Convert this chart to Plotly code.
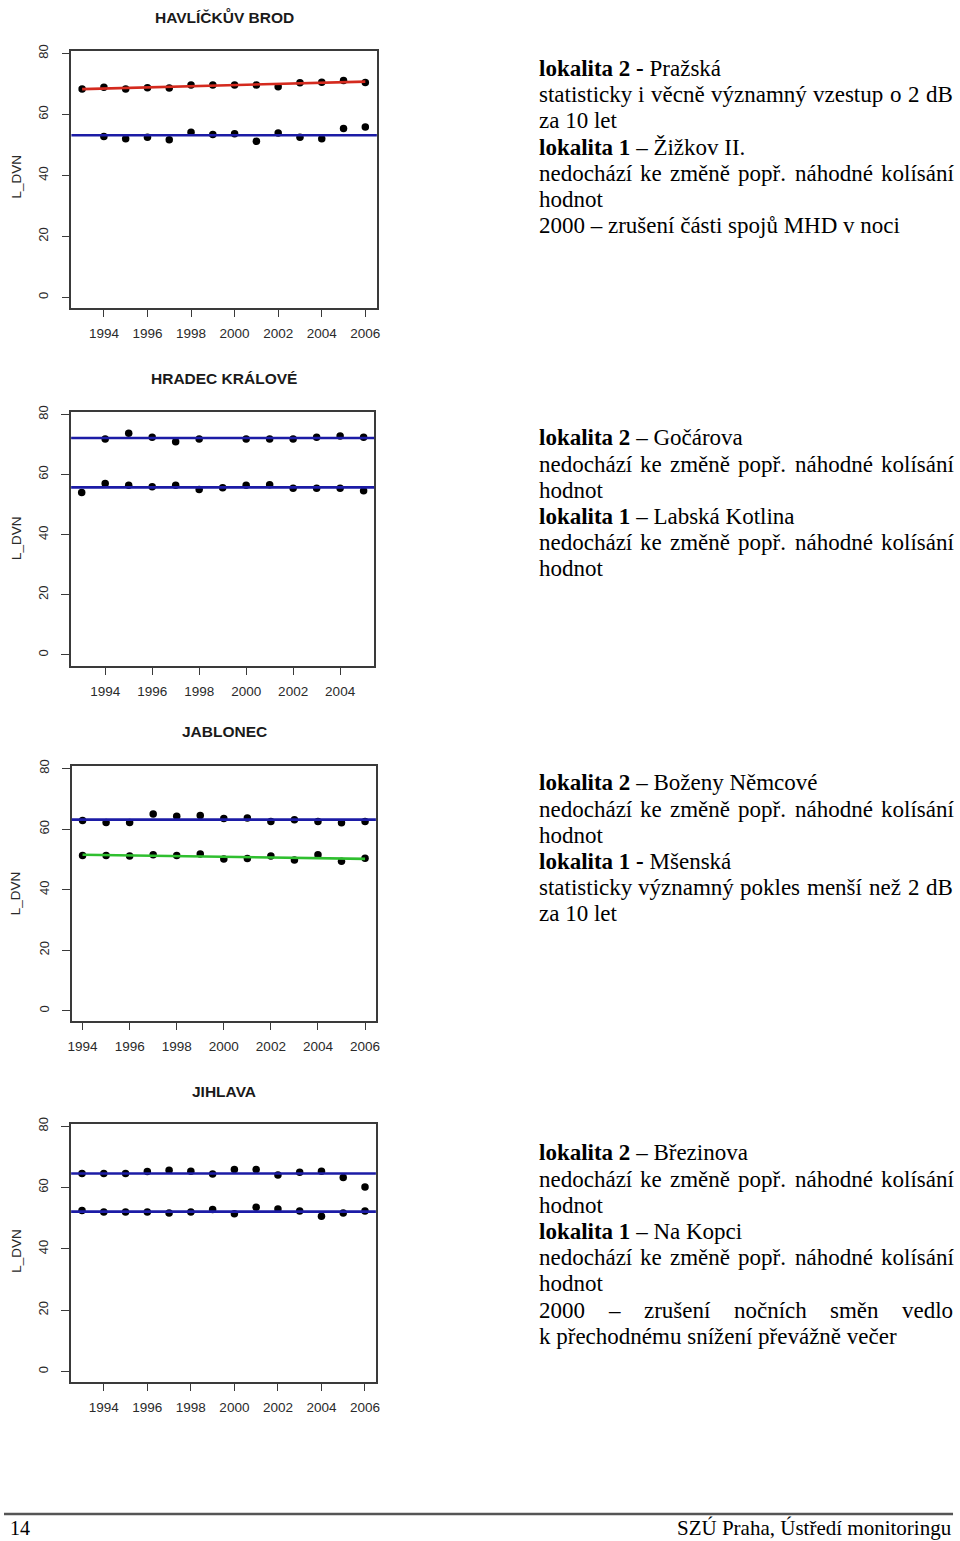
import unicodedata
import numpy as np
import plotly.graph_objects as go

W, H = 960, 1541

# ---------------- data ----------------
titles = ["HAVLÍČKŮV BROD", "HRADEC KRÁLOVÉ", "JABLONEC", "JIHLAVA"]

years_hb = list(range(1993, 2007))
hb_lok2 = [68.35, 68.9, 68.35, 68.8, 68.7, 69.7, 69.7, 69.7, 69.7, 69.1, 70.4, 70.6, 71.1, 70.5]
hb_lok1 = [None, 52.8, 52.0, 52.5, 51.7, 54.2, 53.4, 53.7, 51.2, 53.9, 52.5, 52.0, 55.4, 55.9]

years_hk = list(range(1993, 2006))
hk_lok2 = [None, 71.8, 73.7, 72.4, 70.9, 71.8, None, 71.8, 71.8, 71.8, 72.4, 72.8, 72.4]
hk_lok1 = [54.0, 57.0, 56.4, 55.9, 56.4, 55.0, 55.6, 56.4, 56.6, 55.4, 55.4, 55.4, 54.6]

years_jb = list(range(1994, 2007))
jb_lok2 = [62.8, 62.2, 62.2, 65.0, 64.2, 64.5, 63.5, 63.7, 62.5, 63.1, 62.5, 62.1, 62.5]
jb_lok1 = [51.3, 51.3, 51.1, 51.5, 51.3, 51.8, 50.1, 50.3, 51.1, 49.8, 51.5, 49.4, 50.4]

years_ji = list(range(1993, 2007))
ji_lok2 = [64.6, 64.6, 64.6, 65.2, 65.6, 65.3, 64.4, 65.9, 65.9, 64.1, 65.0, 65.3, 63.3, 60.2]
ji_lok1 = [52.5, 52.0, 52.0, 52.0, 51.7, 52.0, 52.8, 51.4, 53.6, 53.0, 52.3, 50.6, 51.7, 52.3]

y_ticks = [0, 20, 40, 60, 80]
x_ticks_hb = [1994, 1996, 1998, 2000, 2002, 2004, 2006]
x_ticks_hk = [1994, 1996, 1998, 2000, 2002, 2004]
x_ticks_jb = [1994, 1996, 1998, 2000, 2002, 2004, 2006]
x_ticks_ji = [1994, 1996, 1998, 2000, 2002, 2004, 2006]

# fit kind for (lok2, lok1): "mean" = horizontal blue line, else trend colour
fits = [("trend_red", "mean"), ("mean", "mean"), ("mean", "trend_green"), ("mean", "mean")]

texts = [
    [("<b>lokalita 2 -</b> Pražská", False),
     ("statisticky i věcně významný vzestup o 2 dB", True),
     ("za 10 let", False),
     ("<b>lokalita 1</b> – Žižkov II.", False),
     ("nedochází ke změně popř. náhodné kolísání", True),
     ("hodnot", False),
     ("2000 – zrušení části spojů MHD v noci", False)],
    [("<b>lokalita 2</b> – Gočárova", False),
     ("nedochází ke změně popř. náhodné kolísání", True),
     ("hodnot", False),
     ("<b>lokalita 1</b> – Labská Kotlina", False),
     ("nedochází ke změně popř. náhodné kolísání", True),
     ("hodnot", False)],
    [("<b>lokalita 2</b> – Boženy Němcové", False),
     ("nedochází ke změně popř. náhodné kolísání", True),
     ("hodnot", False),
     ("<b>lokalita 1 -</b> Mšenská", False),
     ("statisticky významný pokles menší než 2 dB", True),
     ("za 10 let", False)],
    [("<b>lokalita 2</b> – Březinova", False),
     ("nedochází ke změně popř. náhodné kolísání", True),
     ("hodnot", False),
     ("<b>lokalita 1</b> – Na Kopci", False),
     ("nedochází ke změně popř. náhodné kolísání", True),
     ("hodnot", False),
     ("2000 – zrušení nočních směn vedlo", True),
     ("k přechodnému snížení převážně večer", False)],
]

# ---------------- layout geometry (pixels) ----------------
panels = [
    dict(years=years_hb, a=hb_lok2, b=hb_lok1, xt=x_ticks_hb,
         box=(68, 376, 44, 302), xr=(1992.51, 2006.53), yr=(-3.36, 80.88),
         title_y=10, lab_y=170, text_y=69.7),
    dict(years=years_hk, a=hk_lok2, b=hk_lok1, xt=x_ticks_hk,
         box=(67.7, 373.3, 407.3, 661.7), xr=(1992.55, 2005.45), yr=(-3.65, 80.66),
         title_y=373, lab_y=533, text_y=440.7),
    dict(years=years_jb, a=jb_lok2, b=jb_lok1, xt=x_ticks_jb,
         box=(68.3, 375, 762.7, 1018.3), xr=(1993.54, 2006.46), yr=(-3.29, 80.76),
         title_y=728, lab_y=890, text_y=787.3),
    dict(years=years_ji, a=ji_lok2, b=ji_lok1, xt=x_ticks_ji,
         box=(67.7, 375, 1121.7, 1381), xr=(1992.5, 2006.5), yr=(-3.34, 80.84),
         title_y=1089, lab_y=1249, text_y=1159),
]

def px(x):
    return x / W

def py(y):
    return 1 - y / H

SANS = "Liberation Sans, Arial, sans-serif"
SERIF = "Liberation Serif, Times New Roman, serif"
AX_COL = "#3a3a3a"
BLUE = "#1c1ca6"
RED = "#d42a1e"
GREEN = "#2fbf2f"

# Times (Liberation Serif) advance widths, per 1000 em
TW = {' ': 250, 'a': 444, 'b': 500, 'c': 444, 'd': 500, 'e': 444, 'f': 333, 'g': 500,
      'h': 500, 'i': 278, 'j': 278, 'k': 500, 'l': 278, 'm': 778, 'n': 500, 'o': 500,
      'p': 500, 'q': 500, 'r': 333, 's': 389, 't': 278, 'u': 500, 'v': 500, 'w': 722,
      'x': 500, 'y': 500, 'z': 444, 'B': 667, 'D': 722, 'M': 889, 'H': 722, '.': 250,
      ',': 250, '-': 333, '–': 500}

def word_w(s, fs):
    tot = 0
    for ch in s:
        base = unicodedata.normalize('NFD', ch)[0]
        tot += TW.get(base, 500)
    return tot / 1000 * fs

fig = go.Figure()
annotations = []
shapes = []

for i, p in enumerate(panels):
    n = "" if i == 0 else str(i + 1)
    xa, ya = "x" + n, "y" + n
    x0, x1, y0, y1 = p["box"]
    axis_common = dict(showline=True, mirror=True, linecolor=AX_COL, linewidth=1.5,
                       ticks="outside", ticklen=8, tickwidth=1.3, tickcolor=AX_COL,
                       showgrid=False, zeroline=False, fixedrange=True)
    fig.layout["xaxis" + n] = dict(axis_common, domain=[px(x0), px(x1)], anchor=ya,
                                   range=list(p["xr"]), tickmode="array",
                                   tickvals=p["xt"], ticklabelstandoff=4,
                                   tickfont=dict(family=SANS, size=13.5, color="#2a2a2a"))
    fig.layout["yaxis" + n] = dict(axis_common, domain=[py(y1), py(y0)], anchor=xa,
                                   range=list(p["yr"]), tickmode="array",
                                   tickvals=y_ticks, tickangle=-90,
                                   ticklabelstandoff=8,
                                   tickfont=dict(family=SANS, size=13, color="#2a2a2a"))

    # points
    for series in (p["a"], p["b"]):
        fig.add_trace(go.Scatter(x=p["years"], y=series, mode="markers", xaxis=xa, yaxis=ya,
                                 marker=dict(color="black", size=7.5), showlegend=False,
                                 hoverinfo="skip"))
    # fitted lines
    for series, kind in zip((p["a"], p["b"]), fits[i]):
        xs = np.array([yr for yr, v in zip(p["years"], series) if v is not None], float)
        vs = np.array([v for v in series if v is not None], float)
        if kind == "mean":
            m = float(vs.mean())
            shapes.append(dict(type="line", xref=xa + " domain", yref=ya, x0=0, x1=1,
                               y0=m, y1=m, line=dict(color=BLUE, width=2.6), layer="above"))
        else:
            k, q = np.polyfit(xs, vs, 1)
            ends = np.array([xs.min(), xs.max()])
            col = RED if kind == "trend_red" else GREEN
            fig.add_trace(go.Scatter(x=ends, y=k * ends + q, mode="lines", xaxis=xa, yaxis=ya,
                                     line=dict(color=col, width=2.6), showlegend=False,
                                     hoverinfo="skip"))

    # title and y label
    annotations.append(dict(text="<b>%s</b>" % titles[i], x=px(222), y=py(p["title_y"]),
                            xref="paper", yref="paper", xanchor="center", yanchor="middle",
                            showarrow=False, font=dict(family=SANS, size=15.5, color="#1a1a1a")))
    annotations.append(dict(text="L_DVN", x=px(12.5), y=py(p["lab_y"]), xref="paper",
                            yref="paper", xanchor="center", yanchor="middle", textangle=-90,
                            showarrow=False, font=dict(family=SANS, size=13.5, color="#2a2a2a")))

    # right-hand text block
    FS = 23
    LEFT, RIGHT = 538, 956
    for j, (line, just) in enumerate(texts[i]):
        base = p["text_y"] + j * 26.3
        ymid = base - 0.34 * FS
        if not just:
            annotations.append(dict(text=line, x=px(LEFT - 1), y=py(ymid), xref="paper",
                                    yref="paper", xanchor="left", yanchor="middle",
                                    showarrow=False, font=dict(family=SERIF, size=FS, color="black")))
        else:
            words = line.split(" ")
            ws = [word_w(w, FS) for w in words]
            gap = (RIGHT - LEFT - sum(ws)) / (len(words) - 1)
            xpos = LEFT
            for w, ww in zip(words, ws):
                annotations.append(dict(text=w, x=px(xpos - 1), y=py(ymid), xref="paper",
                                        yref="paper", xanchor="left", yanchor="middle",
                                        showarrow=False,
                                        font=dict(family=SERIF, size=FS, color="black")))
                xpos += ww + gap

# footer
shapes.append(dict(type="line", xref="paper", yref="paper", x0=0, x1=px(957),
                   y0=py(1514), y1=py(1514), line=dict(color="#555555", width=2.5)))
annotations.append(dict(text="14", x=px(4), y=py(1535 - 0.34 * 20), xref="paper", yref="paper",
                        xanchor="left", yanchor="middle", showarrow=False,
                        font=dict(family=SERIF, size=20, color="black")))
annotations.append(dict(text="SZÚ Praha, Ústředí monitoringu", x=px(958), y=py(1535 - 0.34 * 21),
                        xref="paper", yref="paper", xanchor="right", yanchor="middle",
                        showarrow=False, font=dict(family=SERIF, size=21, color="black")))

fig.update_layout(width=W, height=H, margin=dict(l=0, r=0, t=0, b=0),
                  paper_bgcolor="white", plot_bgcolor="white",
                  annotations=annotations, shapes=shapes, showlegend=False)

fig.write_html("out.html", config={"displayModeBar": False})
